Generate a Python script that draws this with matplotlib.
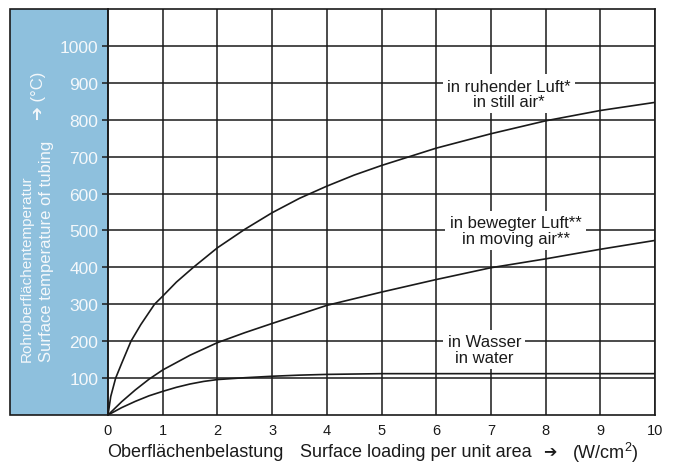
import matplotlib
matplotlib.use('Agg')
import matplotlib.pyplot as plt
from matplotlib.patches import Rectangle

plt.rcParams['font.family'] = ['Liberation Sans', 'DejaVu Sans']
plt.rcParams['mathtext.default'] = 'regular'

# values
x_still = [0, 0.05, 0.14, 0.25, 0.42, 0.6, 0.85, 1, 1.25, 1.56, 2, 2.5, 3, 3.5,
           4, 4.5, 5, 6, 7, 8, 9, 10]
y_still = [0, 50, 100, 140, 200, 245, 300, 322, 360, 400, 453, 503, 548, 587,
           620, 650, 676, 723, 762, 797, 825, 847]

x_moving = [0, 0.25, 0.5, 0.75, 1, 1.5, 2, 2.5, 3, 4, 5, 6, 7, 8, 9, 10]
y_moving = [0, 36, 68, 97, 122, 162, 196, 223, 248, 297, 333, 367, 399, 423, 449, 473]

x_water = [0, 0.25, 0.5, 0.75, 1, 1.25, 1.5, 1.75, 2, 2.5, 3, 3.5, 4, 5, 6, 7, 8, 9, 10]
y_water = [0, 20, 37, 52, 64, 75, 84, 91, 96, 101, 105, 108, 110, 112, 112, 112, 112, 112, 112]

xticks = [0, 1, 2, 3, 4, 5, 6, 7, 8, 9, 10]
yticks = [100, 200, 300, 400, 500, 600, 700, 800, 900, 1000]

blue = '#8ec0dd'
ink = '#1a1a1a'
pale = '#f4f8fb'

fig = plt.figure(figsize=(6.74, 4.64), dpi=100)
ax = fig.add_axes([108/674, 1 - 416/464, 547/674, 406/464])

# blue panel left of the plot
fig.patches.append(Rectangle((10/674, 1 - 416/464), 98/674, 406/464,
                             transform=fig.transFigure, facecolor=blue,
                             edgecolor=ink, lw=1.2, zorder=-10))

ax.set_xlim(0, 10)
ax.set_ylim(0, 1100)
ax.set_xticks(xticks)
ax.set_yticks(yticks)
ax.grid(True, color=ink, lw=1.1)
ax.set_axisbelow(True)
for s in ax.spines.values():
    s.set_color(ink)
    s.set_linewidth(1.2)

ax.tick_params(axis='x', length=0, pad=6, labelsize=10.5, labelcolor=ink)
ax.tick_params(axis='y', length=4, width=1.1, color=ink, pad=3,
               labelsize=12.5, labelcolor=pale)

ax.plot(x_still, y_still, color=ink, lw=1.2)
ax.plot(x_moving, y_moving, color=ink, lw=1.2)
ax.plot(x_water, y_water, color=ink, lw=1.2)

box = dict(facecolor='white', edgecolor='none', pad=3)
ax.text(7.33, 870, 'in ruhender Luft*\nin still air*', ha='center', va='center',
        fontsize=12, color=ink, linespacing=1.05, bbox=box)
ax.text(7.45, 500, 'in bewegter Luft**\nin moving air**', ha='center', va='center',
        fontsize=12, color=ink, linespacing=1.05, bbox=box)
ax.text(6.88, 178, 'in Wasser\nin water', ha='center', va='center',
        fontsize=12, color=ink, linespacing=1.05, bbox=box)

# axis titles
ybase = 1 - 453/464
fig.text(107/674, ybase, 'Oberflächenbelastung', ha='left', va='center',
         fontsize=13, color=ink)
fig.text(300/674, ybase, 'Surface loading per unit area', ha='left', va='center',
         fontsize=13, color=ink)
fig.text(550/674, ybase, '\u2794', ha='center', va='center',
         fontsize=11.5, color=ink)
fig.text(572/674, ybase, '(W/cm$^2$)', ha='left', va='center',
         fontsize=13, color=ink)

fig.text(27/674, 1 - 362/464, 'Rohroberflächentemperatur', rotation=90,
         ha='center', va='bottom', fontsize=11, color=pale)
fig.text(47/674, 1 - 362/464, 'Surface temperature of tubing', rotation=90,
         ha='center', va='bottom', fontsize=12, color=pale)
fig.text(38/674, 1 - 120/464, '\u2794 (°C)', rotation=90,
         ha='center', va='bottom', fontsize=12, color=pale)

fig.savefig('out.png', dpi=100)
